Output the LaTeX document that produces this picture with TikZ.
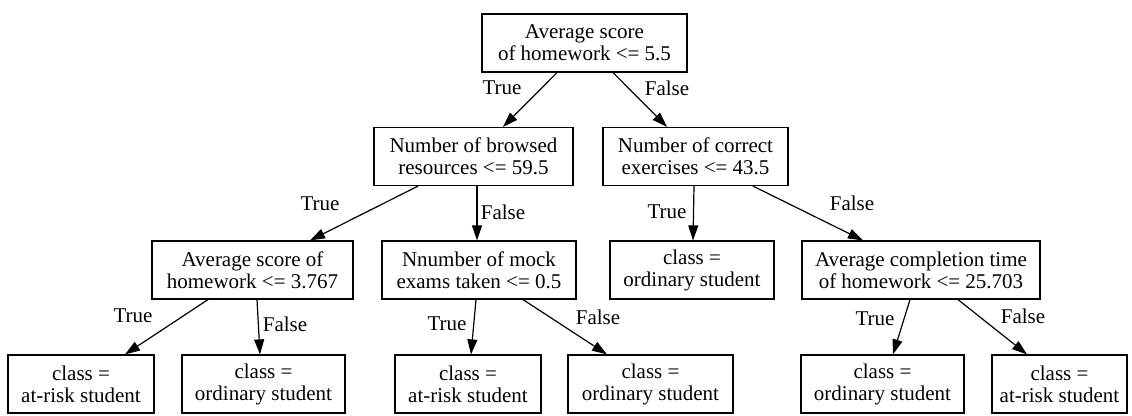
\documentclass[tikz,border=0pt]{standalone}
\usepackage{fontspec}
\setmainfont{Liberation Serif}
\usetikzlibrary{arrows.meta}
\begin{document}
\begin{tikzpicture}[x=1pt,y=-1pt,
  box/.style={draw,line width=1.2pt,inner sep=0pt,minimum height=58pt,align=center,
    font=\fontsize{21}{22}\selectfont},
  lbl/.style={inner sep=0pt,font=\fontsize{21}{22}\selectfont},
  edge/.style={line width=1.2pt,-{Triangle[length=15pt,width=10pt]}}]
\useasboundingbox (0,0) rectangle (1132,415);
% level 0
\node[box,minimum width=205pt] (root) at (584.5,43) {Average score\\of homework <= 5.5};
% level 1
\node[box,minimum width=199pt] (L) at (473.5,156.5) {Number of browsed\\resources <= 59.5};
\node[box,minimum width=185pt] (R) at (695.5,156.5) {Number of correct\\exercises <= 43.5};
% level 2
\node[box,minimum width=201pt] (A) at (252.5,270) {Average score of\\homework <= 3.767};
\node[box,minimum width=194pt] (B) at (479,270) {Nnumber of mock\\exams taken <= 0.5};
\node[box,minimum width=164pt] (C) at (692,270) {class =\\ordinary student};
\node[box,minimum width=238pt] (D) at (921,270) {Average completion time\\of homework <= 25.703};
% level 3
\node[box,minimum width=146pt] (l1) at (81,384) {class =\\at-risk student};
\node[box,minimum width=163pt] (l2) at (263.5,384) {class =\\ordinary student};
\node[box,minimum width=146pt] (l3) at (468,384) {class =\\at-risk student};
\node[box,minimum width=165pt] (l4) at (650.5,384) {class =\\ordinary student};
\node[box,minimum width=163pt] (l5) at (882.5,384) {class =\\ordinary student};
\node[box,minimum width=135pt] (l6) at (1059.5,384) {class =\\at-risk student};
% edges
\draw[edge] ([xshift=-27.5pt]root.south) -- ([xshift=29.5pt]L.north);
\draw[edge] ([xshift=28.5pt]root.south) -- ([xshift=-28.5pt]R.north);
\draw[edge] ([xshift=-55.5pt]L.south) -- ([xshift=57.5pt]A.north);
\draw[edge] ([xshift=3.5pt]L.south) -- ([xshift=-2pt]B.north);
\draw[edge] ([xshift=-1.5pt]R.south) -- ([xshift=1pt]C.north);
\draw[edge] ([xshift=57.5pt]R.south) -- ([xshift=-58pt]D.north);
\draw[edge] ([xshift=-44.5pt]A.south) -- ([xshift=44pt]l1.north);
\draw[edge] ([xshift=4.5pt]A.south) -- ([xshift=-3.5pt]l2.north);
\draw[edge] ([xshift=-3pt]B.south) -- ([xshift=3pt]l3.north);
\draw[edge] ([xshift=44pt]B.south) -- ([xshift=-43.5pt]l4.north);
\draw[edge] ([xshift=-11pt]D.south) -- ([xshift=10.5pt]l5.north);
\draw[edge] ([xshift=37pt]D.south) -- ([xshift=-32.5pt]l6.north);
% edge labels
\node[lbl] (t0) at (502,88) {True};
\node[lbl] (f0) at (667,88) {False};
\node[lbl] (t1) at (320,204) {True};
\node[lbl] (f1) at (503,212) {False};
\node[lbl] (t2) at (667,212) {True};
\node[lbl] (f2) at (852,203) {False};
\node[lbl] (t3) at (133,316) {True};
\node[lbl] (f3) at (285,324) {False};
\node[lbl] (t4) at (447,324) {True};
\node[lbl] (f4) at (598,317) {False};
\node[lbl] (t5) at (875,319) {True};
\node[lbl] (f5) at (1023,316) {False};
\end{tikzpicture}
\end{document}
